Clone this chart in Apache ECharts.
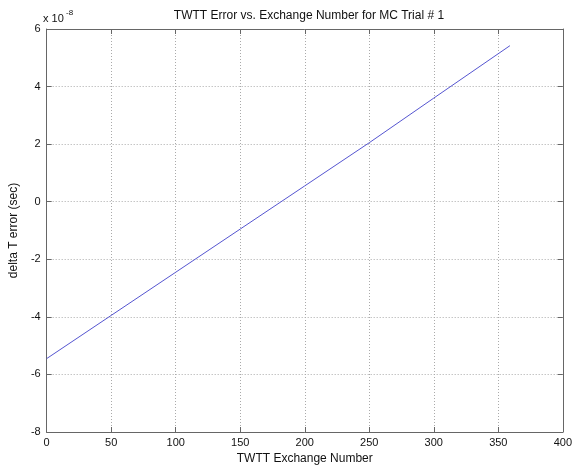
<!DOCTYPE html>
<html><head><meta charset="utf-8">
<script src="https://cdn.jsdelivr.net/npm/echarts@6/dist/echarts.min.js"></script>
<style>html,body{margin:0;padding:0;background:#fff}#c{width:575px;height:470px}</style>
</head><body><div id="c"></div>
<script>
// Exchange numbers and delta T error (units of 1e-8 sec)
var exchangeNumbers = [0, 50, 100, 150, 200, 250, 300, 359];
var deltaTError = [-5.45, -3.95, -2.45, -0.95, 0.55, 2.05, 3.6, 5.42];
var xTicks = [0, 50, 100, 150, 200, 250, 300, 350, 400];
var yTicks = [-8, -6, -4, -2, 0, 2, 4, 6];

var chart = echarts.init(document.getElementById('c'));
var font = 'Liberation Sans, Arial, sans-serif';
var axisColor = '#666';
var pts = exchangeNumbers.map(function(x, i){ return [x, deltaTError[i]]; });
function baseAxis(extra){
  return Object.assign({
    axisLine: {show: true, onZero: false, lineStyle: {color: axisColor, width: 1}},
    axisTick: {show: true, inside: true, length: 5, lineStyle: {color: axisColor}},
    splitLine: {show: false},
    axisLabel: {show: false}
  }, extra);
}
chart.setOption({
  animation: false,
  title: {
    text: 'TWTT Error vs. Exchange Number for MC Trial # 1',
    left: 304, top: 5, textAlign: 'center',
    textStyle: {fontFamily: font, fontSize: 12, fontWeight: 'normal', color: '#111'}
  },
  grid: {left: 44, right: 12, top: 29, bottom: 33, containLabel: false},
  xAxis: [
    baseAxis({type: 'value', min: 0, max: 400, interval: 50, position: 'bottom',
      name: 'TWTT Exchange Number', nameLocation: 'middle', nameGap: 21,
      nameTextStyle: {fontFamily: font, fontSize: 12, color: '#111'},
      axisLabel: {show: true, fontFamily: font, fontSize: 11, color: '#111', margin: 5},
      splitLine: {show: true, lineStyle: {color: '#aaa', type: [1, 2], width: 1}}}),
    baseAxis({type: 'value', min: 0, max: 400, interval: 50, position: 'top'})
  ],
  yAxis: [
    baseAxis({type: 'value', min: -8, max: 6, interval: 2, position: 'left',
      name: 'delta T error (sec)', nameLocation: 'middle', nameGap: 24, nameRotate: 90,
      nameTextStyle: {fontFamily: font, fontSize: 12, color: '#111'},
      axisLabel: {show: true, fontFamily: font, fontSize: 11, color: '#111', margin: 6},
      splitLine: {show: true, lineStyle: {color: '#aaa', type: [1, 2], width: 1}}}),
    baseAxis({type: 'value', min: -8, max: 6, interval: 2, position: 'right'})
  ],
  graphic: [
    {type: 'text', left: 43, top: 13, style: {text: 'x 10', font: '11px ' + font, fill: '#111'}},
    {type: 'text', left: 66, top: 9, style: {text: '-8', font: '8px ' + font, fill: '#111'}}
  ],
  series: [{
    type: 'line', data: pts, showSymbol: false, symbol: 'none',
    lineStyle: {color: '#5555d0', width: 1}
  }]
});
</script></body></html>
